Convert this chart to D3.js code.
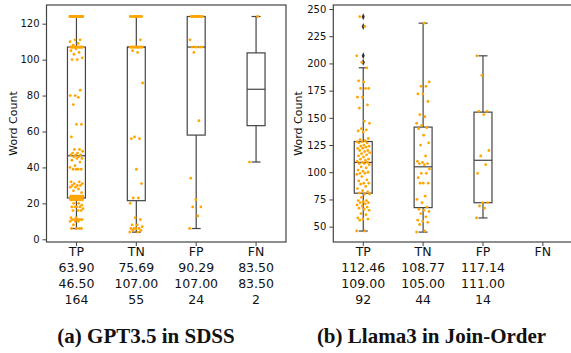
<!DOCTYPE html>
<html>
<head>
<meta charset="utf-8">
<script src="https://cdn.jsdelivr.net/npm/d3@7"></script>
<style>
  body { margin: 0; background: #fff; }
  svg { display: block; font-family: "DejaVu Sans", sans-serif; }
</style>
</head>
<body>
<div id="chart"></div>
<script>
// ----- Data -----
const categories = ["TP", "TN", "FP", "FN"];

// (a) GPT3.5 in SDSS - word count of each query
const gptTP = [
    124, 124, 124, 124, 124, 124, 124, 124,
    124, 124, 124, 124, 124, 124, 124, 124,
    124, 124, 124, 124, 124, 124, 124, 124,
    124, 124, 124, 124, 124, 124, 124, 124,
    111, 111, 110, 109, 108,
    107, 107, 107, 107, 107, 107, 107, 107, 107, 107, 107,
    107, 107, 107, 107, 107, 107, 107, 107, 107, 107, 107,
    106, 105, 104, 103, 101, 100, 100,
    83, 80, 80, 79, 75, 64, 64, 57,
    50, 50, 49, 48, 48, 47, 47, 47,
    46, 46, 45, 45, 44, 43, 41, 40, 39, 39, 39, 39,
    32, 32, 31, 31, 30, 30, 30, 29, 29, 28, 27, 26,
    24, 24, 24, 24, 24, 24, 24, 24, 24, 24,
    23, 23, 23, 23, 23, 23, 23, 23, 23, 23, 23,
    22, 22, 22, 22, 22, 22, 22, 22, 22, 22,
    20, 20, 19, 18, 18, 18, 18, 17, 16, 16, 16,
    12, 12, 11, 11, 11, 11, 11, 11, 10, 10, 10,
    8, 6, 6, 6, 6
];
const gptTN = [
    4, 4, 5, 5, 6, 6, 6, 6, 7, 8, 8, 11, 12, 20, 23,
    23, 31, 39, 56, 56, 57, 87, 104, 105,
    107, 107, 107, 107, 107, 107, 107, 107, 107, 107, 107,
    107, 107, 107, 107, 107, 107, 107, 107, 107, 107,
    111, 124, 124, 124, 124, 124, 124, 124, 124, 124
];
const gptFP = [
    6, 13, 18, 18, 22, 34, 66, 104, 107, 107, 107, 107, 107, 111,
    124, 124, 124, 124, 124, 124, 124, 124, 124, 124
];
const gptFN = [43, 124];

// (b) Llama3 in Join-Order
const llamaTP = [
    46, 46, 56, 57, 57, 58, 61, 62, 65, 66, 67, 68, 69, 70, 71, 72, 72, 73, 74, 74, 77, 80, 80,
    81, 82, 83, 85, 87, 89, 90, 90, 92, 93, 96, 98, 99, 99, 100, 101, 102, 104, 105, 107, 108, 108, 109,
    109, 110, 111, 112, 112, 114, 115, 116, 117, 118, 119, 120, 120, 122, 122, 123, 124, 124, 125, 127, 127, 128, 128,
    129, 130, 131, 137, 138, 139, 140, 145, 147, 159, 162, 169, 169, 177, 177, 177, 183, 184, 196, 201, 207, 234, 243
];
const llamaTN = [
    45, 46, 52, 54, 55, 56, 59, 62, 64, 65, 66,
    68, 72, 75, 78, 90, 90, 90, 95, 99, 99, 103,
    107, 108, 108, 109, 110, 115, 125, 127, 134, 140, 141,
    143, 145, 151, 153, 165, 172, 172, 179, 179, 183, 237
];
const llamaFP = [58, 67, 69, 72, 72, 99, 107, 115, 120, 153, 156, 156, 189, 207];
const llamaFN = [];

const gptTicks = [0, 20, 40, 60, 80, 100, 120];
const llamaTicks = [50, 75, 100, 125, 150, 175, 200, 225, 250];

// ----- Layout -----
const width = 571;
const height = 353;
const plotWidth = 239.5;
const plotTop = 5;
const plotBottom = 242;
const lineColor = "#444";

const panels = [
    { series: [gptTP, gptTN, gptFP, gptFN], ticks: gptTicks, domain: [-1.5, 130.4],
      left: 46.5, labelX: 13, caption: "(a) GPT3.5 in SDSS", captionX: 146 },
    { series: [llamaTP, llamaTN, llamaFP, llamaFN], ticks: llamaTicks, domain: [35.9, 253.7],
      left: 333.3, labelX: 298.5, caption: "(b) Llama3 in Join-Order", captionX: 431.5 }
];

const svg = d3.select("#chart")
    .append("svg")
    .attr("width", width)
    .attr("height", height);

// box statistics like matplotlib (1.5 IQR whiskers)
function boxStats(values) {
    const s = values.slice().sort(d3.ascending);
    const q1 = d3.quantile(s, 0.25);
    const med = d3.quantile(s, 0.5);
    const q3 = d3.quantile(s, 0.75);
    const iqr = q3 - q1;
    const lo = d3.min(s.filter(v => v >= q1 - 1.5 * iqr));
    const hi = d3.max(s.filter(v => v <= q3 + 1.5 * iqr));
    const fliers = s.filter(v => v < lo || v > hi);
    return { q1, med, q3, lo, hi, fliers, mean: d3.mean(s), n: s.length };
}

panels.forEach(p => {
    const g = svg.append("g");

    const x = d3.scaleBand()
        .domain(categories)
        .range([p.left, p.left + plotWidth]);
    const y = d3.scaleLinear()
        .domain(p.domain)
        .range([plotBottom, plotTop]);

    const boxW = x.bandwidth() * 0.3;
    const jitter = x.bandwidth() * 0.11;
    const cx = c => x(c) + x.bandwidth() / 2;

    // y axis
    const yAxis = g.append("g")
        .attr("transform", `translate(${p.left},0)`)
        .call(d3.axisLeft(y).tickValues(p.ticks).tickSize(4).tickPadding(3));
    yAxis.select(".domain").remove();
    yAxis.selectAll("line").attr("stroke", lineColor);
    yAxis.selectAll("text")
        .attr("fill", "#111")
        .style("font-size", "10px")
        .style("font-family", "DejaVu Sans");

    g.append("text")
        .attr("transform", `translate(${p.labelX},123.5) rotate(-90)`)
        .attr("text-anchor", "middle")
        .attr("dy", "0.35em")
        .attr("fill", "#111")
        .style("font-family", "DejaVu Sans")
        .style("font-size", "11px")
        .text("Word Count");

    // x axis with stats under each category
    const xAxis = g.append("g")
        .attr("transform", `translate(0,${plotBottom})`)
        .call(d3.axisBottom(x).tickSize(4).tickFormat(""));
    xAxis.select(".domain").remove();
    xAxis.selectAll("line").attr("stroke", lineColor);
    xAxis.selectAll(".tick text").remove();
    xAxis.selectAll(".tick").each(function (c, i) {
        const vals = p.series[i];
        const rows = vals.length
            ? [c, d3.mean(vals).toFixed(2), d3.median(vals).toFixed(2), String(vals.length)]
            : [c];
        d3.select(this).append("text")
            .attr("text-anchor", "middle")
            .attr("fill", "#111")
            .style("font-family", "DejaVu Sans")
            .style("font-size", "12.5px")
            .selectAll("tspan")
            .data(rows)
            .enter().append("tspan")
            .attr("x", 0)
            .attr("y", (d, k) => 13.6 + k * 16)
            .text(d => d);
    });

    // boxes
    categories.forEach((c, i) => {
        const vals = p.series[i];
        if (!vals.length) return;
        const st = boxStats(vals);
        const xc = cx(c);
        const bg = g.append("g")
            .attr("stroke", lineColor)
            .attr("stroke-width", 1.2)
            .attr("fill", "none");

        bg.append("line").attr("x1", xc).attr("x2", xc).attr("y1", y(st.q3)).attr("y2", y(st.hi));
        bg.append("line").attr("x1", xc).attr("x2", xc).attr("y1", y(st.q1)).attr("y2", y(st.lo));
        bg.append("line").attr("x1", xc - boxW / 4).attr("x2", xc + boxW / 4).attr("y1", y(st.hi)).attr("y2", y(st.hi));
        bg.append("line").attr("x1", xc - boxW / 4).attr("x2", xc + boxW / 4).attr("y1", y(st.lo)).attr("y2", y(st.lo));
        bg.append("rect")
            .attr("x", xc - boxW / 2)
            .attr("y", y(st.q3))
            .attr("width", boxW)
            .attr("height", y(st.q1) - y(st.q3));
        bg.append("line").attr("x1", xc - boxW / 2).attr("x2", xc + boxW / 2).attr("y1", y(st.med)).attr("y2", y(st.med));

        // outliers as thin diamonds
        g.selectAll(null)
            .data(st.fliers)
            .enter().append("path")
            .attr("d", d3.symbol(d3.symbolDiamond, 14))
            .attr("transform", d => `translate(${xc},${y(d)}) scale(0.75,1)`)
            .attr("fill", "#333");

        // strip points with even spread
        g.selectAll(null)
            .data(vals)
            .enter().append("circle")
            .attr("cx", (d, k) => xc + (((k * 0.6180339887) % 1) - 0.5) * 2 * jitter)
            .attr("cy", d => y(d))
            .attr("r", 1.4)
            .attr("fill", "#FFA500");
    });

    // frame
    g.append("rect")
        .attr("x", p.left)
        .attr("y", plotTop)
        .attr("width", plotWidth)
        .attr("height", plotBottom - plotTop)
        .attr("fill", "none")
        .attr("stroke", lineColor)
        .attr("stroke-width", 1.2);

    g.append("text")
        .attr("x", p.captionX)
        .attr("y", 343)
        .attr("text-anchor", "middle")
        .attr("fill", "#111")
        .style("font-family", "Liberation Serif")
        .style("font-weight", "bold")
        .style("font-size", "21px")
        .text(p.caption);
});
</script>
</body>
</html>
